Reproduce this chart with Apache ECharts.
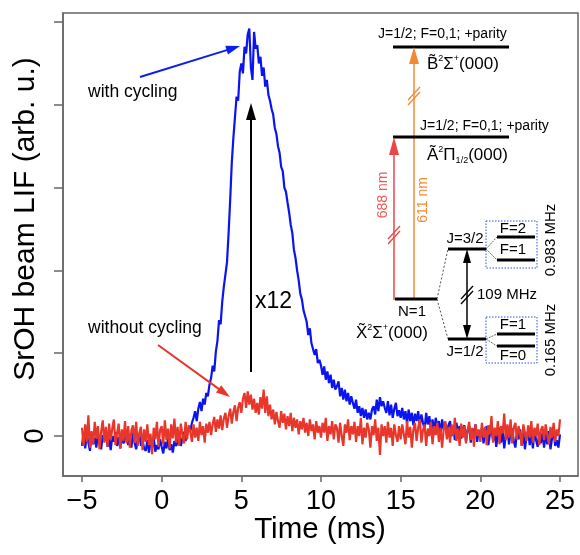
<!DOCTYPE html>
<html><head><meta charset="utf-8">
<script src="https://cdn.jsdelivr.net/npm/echarts@6/dist/echarts.min.js"></script>
<style>html,body{margin:0;padding:0;background:#fff}#c{width:580px;height:555px}</style>
</head><body><div id="c"></div>
<script>
// Sampling grid of the traces (ms)
const tStart = -5, tStep = 0.1;
// LIF with cycling (blue), one value per 0.1 ms from -5 to 25 ms
const withCycling = [
-0.12,0.05,-0.15,0.02,-0.08,-0.18,0.04,-0.1,-0.02,-0.14,
0.03,-0.09,-0.16,0.01,-0.06,0.06,-0.13,-0.03,-0.17,0.0,
-0.07,0.05,-0.12,-0.01,-0.15,0.03,-0.09,-0.04,0.07,-0.11,
-0.02,-0.14,0.04,-0.08,-0.16,-0.03,0.02,-0.12,-0.06,-0.15,
-0.18,-0.05,-0.2,-0.08,-0.14,-0.02,-0.19,-0.11,-0.16,-0.04,
-0.13,-0.21,-0.07,-0.15,-0.03,-0.17,-0.1,-0.2,-0.06,-0.12,
-0.08,0.02,-0.12,-0.03,0.05,-0.06,0.03,0.1,0.06,0.16,
0.22,0.3,0.18,0.33,0.41,0.3,0.45,0.38,0.52,0.48,
0.62,0.7,0.85,0.78,1.02,1.15,1.4,1.35,1.62,1.8,
1.95,2.1,2.45,2.85,3.3,3.6,3.85,4.1,4.05,4.4,
4.5,4.38,4.7,4.62,4.85,4.92,4.45,4.3,4.88,4.68,
4.72,4.5,4.58,4.35,4.45,4.22,4.3,4.12,4.05,3.95,
3.88,3.72,3.65,3.5,3.42,3.25,3.2,3.0,2.95,2.82,
2.7,2.55,2.45,2.25,2.15,2.0,1.88,1.72,1.65,1.52,
1.45,1.38,1.22,1.3,1.12,1.1,0.98,1.05,0.88,0.92,
0.85,0.74,0.84,0.68,0.78,0.64,0.74,0.58,0.68,0.56,
0.6,0.66,0.48,0.58,0.44,0.56,0.42,0.52,0.38,0.48,
0.4,0.33,0.44,0.28,0.36,0.24,0.34,0.22,0.32,0.2,
0.28,0.2,0.32,0.36,0.26,0.44,0.3,0.47,0.36,0.42,
0.34,0.28,0.42,0.25,0.38,0.22,0.33,0.4,0.24,0.31,
0.22,0.34,0.2,0.3,0.15,0.32,0.18,0.28,0.13,0.27,
0.18,0.3,0.12,0.26,0.16,0.08,0.28,0.14,0.24,0.07,
0.2,0.05,0.22,0.1,0.18,0.02,0.2,0.08,0.16,0.01,
0.13,0.18,0.0,0.11,-0.05,0.16,0.04,0.12,-0.03,0.09,
0.13,-0.06,0.07,0.12,-0.08,0.09,0.0,0.14,-0.07,0.06,
-0.02,0.1,-0.09,0.05,0.12,-0.11,0.02,0.09,-0.06,0.07,
-0.13,0.03,0.1,-0.08,0.06,-0.15,0.02,0.08,-0.1,0.05,
0.09,-0.06,-0.14,0.06,-0.04,0.08,-0.12,0.04,-0.16,0.0,
0.06,-0.11,0.03,-0.15,0.07,-0.05,-0.13,0.05,-0.09,0.04,
-0.14,0.03,-0.1,0.06,-0.16,-0.03,0.05,-0.12,-0.05,-0.14,
0.02];
// LIF without cycling (red)
const withoutCycling = [
0.1,-0.12,0.14,-0.07,0.25,-0.14,0.06,-0.1,0.17,-0.03,
0.12,-0.16,0.05,0.19,-0.08,0.11,-0.13,0.15,-0.05,0.09,
0.2,-0.11,0.03,0.15,-0.15,0.08,-0.06,0.18,-0.09,0.12,
-0.14,0.07,0.13,-0.08,0.17,-0.12,0.04,0.11,-0.17,0.08,
-0.07,0.14,-0.11,0.03,-0.22,0.1,-0.04,0.17,-0.13,0.07,
0.12,-0.1,0.19,-0.05,0.09,-0.15,0.14,-0.03,0.21,-0.08,
0.11,-0.12,0.15,0.02,-0.09,0.17,-0.04,0.13,0.05,-0.07,
0.14,-0.02,0.1,-0.06,0.17,0.01,0.12,-0.08,0.15,0.04,
0.17,0.01,0.14,0.23,0.05,0.2,0.09,0.25,0.07,0.21,
0.28,0.1,0.24,0.33,0.15,0.29,0.37,0.18,0.34,0.41,
0.28,0.45,0.52,0.34,0.54,0.38,0.5,0.32,0.45,0.28,
0.4,0.26,0.47,0.33,0.56,0.28,0.48,0.24,0.38,0.2,
0.32,0.14,0.29,0.18,0.1,0.3,0.16,0.27,0.08,0.24,
0.12,0.28,0.06,0.22,0.1,0.2,0.02,0.18,0.08,0.22,
0.04,0.16,0.0,0.2,0.06,0.14,-0.04,0.18,0.04,0.12,
-0.02,0.16,0.04,0.22,-0.06,0.12,0.02,0.18,-0.04,0.14,
0.1,-0.08,0.16,0.0,-0.12,0.14,0.04,0.2,-0.05,0.12,
0.02,0.17,-0.07,0.12,0.0,0.22,-0.1,0.1,-0.02,0.16,
0.08,-0.14,0.12,0.01,0.2,-0.06,0.1,-0.23,0.14,0.0,
0.12,-0.08,0.17,-0.02,0.1,-0.12,0.14,0.01,-0.07,0.12,
-0.04,0.14,0.02,-0.1,0.18,-0.02,0.11,-0.14,0.08,0.16,
-0.06,0.1,0.2,-0.08,0.07,0.14,-0.12,0.09,0.0,0.17,
-0.1,0.12,0.01,0.16,-0.07,0.1,-0.14,0.08,0.18,-0.04,
0.11,-0.08,0.14,0.0,0.22,-0.06,0.09,-0.12,0.15,-0.02,
0.12,-0.09,0.07,0.17,-0.05,0.1,-0.13,0.14,0.0,0.08,
-0.07,0.16,-0.02,0.11,-0.11,0.13,0.02,0.24,-0.08,0.1,
0.0,0.18,-0.1,0.12,0.03,0.27,-0.05,0.14,-0.02,0.2,
-0.09,0.1,0.16,-0.04,0.12,0.02,-0.12,0.14,0.04,-0.06,
0.13,-0.02,0.18,-0.08,0.1,0.0,0.15,-0.11,0.07,0.12,
-0.05,0.14,0.02,-0.1,0.11,-0.02,0.16,-0.07,0.08,0.0,
0.2];
const xTicks = [-5, 0, 5, 10, 15, 20, 25];
const yTicks = [0, 1, 2, 3, 4, 5];
const yTickLabels = [0];

const FF = 'Liberation Sans, Arial, Helvetica, sans-serif';
const toPairs = arr => arr.map((v, i) => [+(tStart + i * tStep).toFixed(2), v]);

const g = [];
function L(x1, y1, x2, y2, color, w, dash) {
  g.push({type:'line', z:100, shape:{x1,y1,x2,y2}, style:{stroke:color, lineWidth:w, lineDash:dash||null}});
}
function P(points, color) {
  g.push({type:'polygon', z:100, shape:{points}, style:{fill:color}});
}
function T(text, x, y, size, opts) {
  opts = opts || {};
  g.push({type:'text', z:100, x, y, rotation: opts.rot || 0,
    style:{text, fill: opts.color || '#000', fontSize:size, fontFamily:FF,
      align: opts.align || 'left', verticalAlign: opts.va || 'middle', rich: opts.rich}});
}
function arrow(x1, y1, x2, y2, color, w, hl, hw) {
  const dx = x2 - x1, dy = y2 - y1, len = Math.hypot(dx, dy);
  const ux = dx / len, uy = dy / len;
  const bx = x2 - ux * hl, by = y2 - uy * hl;
  L(x1, y1, bx + ux, by + uy, color, w);
  P([[x2, y2], [bx - uy * hw / 2, by + ux * hw / 2], [bx + uy * hw / 2, by - ux * hw / 2]], color);
}
function brk(x, y, color) {
  L(x - 6, y + 6, x + 6, y - 7, color, 1.3);
  L(x - 6, y + 11, x + 6, y - 2, color, 1.3);
}

// Annotations on the traces
T('with cycling', 88, 92, 17.5);
arrow(140, 77, 240, 46, '#0a1ef0', 2, 14, 9);
T('without cycling', 88, 328, 17.5);
arrow(158, 345, 230, 397, '#e8362a', 2, 14, 9);
arrow(251, 372, 251, 103, '#000', 2, 17, 10);
T('x12', 255, 302, 23);

// Energy-level inset
const ORANGE = '#f28a34', REDA = '#e8474a', BLUEBOX = '#3050f0';
const supRich = {
  m:{fontSize:17, fontFamily:FF, fill:'#000'},
  s:{fontSize:9, fontFamily:FF, fill:'#000', verticalAlign:'top', lineHeight:20},
  d:{fontSize:9, fontFamily:FF, fill:'#000', verticalAlign:'bottom', lineHeight:16}
};
T('J=1/2; F=0,1; +parity', 378, 34, 14);
L(393, 47, 509, 47, '#000', 3);
T('{m|B\u0303}{s|2}{m|\u03A3}{s|+}{m|(000)}', 427, 64, 17, {rich:supRich});
L(414, 300, 414, 62, ORANGE, 1.5);
P([[414, 47], [409, 64], [419, 64]], ORANGE);
brk(414, 94, ORANGE);

L(393, 137, 509, 137, '#000', 3);
T('J=1/2; F=0,1; +parity', 420, 126, 14);
T('{m|A\u0303}{s|2}{m|\u03A0}{d|1/2}{m|(000)}', 427, 155, 17, {rich:supRich});
L(394, 300, 394, 154, REDA, 1.5);
P([[394, 137], [389, 155], [399, 155]], REDA);
brk(394, 233, REDA);
T('688 nm', 383, 195, 14, {rot:Math.PI/2, color:'#e85a5a', align:'center'});
T('611 nm', 423, 200, 14, {rot:Math.PI/2, color:ORANGE, align:'center'});

L(395, 299, 437, 299, '#000', 3);
T('N=1', 412, 312, 15, {align:'center'});
T('{m|X\u0303}{s|2}{m|\u03A3}{s|+}{m|(000)}', 356, 333, 17, {rich:supRich});
L(437, 299, 448, 249, '#222', 0.8, [2, 2]);
L(437, 299, 448, 339, '#222', 0.8, [2, 2]);
L(448, 249, 486, 249, '#000', 3);
L(448, 339, 486, 339, '#000', 3);
T('J=3/2', 465, 239, 15, {align:'center'});
T('J=1/2', 465, 352, 15, {align:'center'});
L(467, 262, 467, 326, '#000', 1.5);
P([[467, 249], [463, 263], [471, 263]], '#000');
P([[467, 339], [463, 325], [471, 325]], '#000');
brk(467, 293, '#000');
T('109 MHz', 477, 295, 15);

L(486, 249, 497, 237, '#444', 0.8, [2, 1]);
L(486, 249, 497, 260, '#444', 0.8, [2, 1]);
L(497, 237, 535, 237, '#000', 3);
L(497, 260, 535, 260, '#000', 3);
T('F=2', 513, 229, 15, {align:'center'});
T('F=1', 513, 250, 15, {align:'center'});
L(486, 339, 497, 334, '#444', 0.8, [2, 1]);
L(486, 339, 497, 346, '#444', 0.8, [2, 1]);
L(497, 334, 535, 334, '#000', 3);
L(497, 346, 535, 346, '#000', 3);
T('F=1', 513, 325, 15, {align:'center'});
T('F=0', 513, 356, 15, {align:'center'});
g.push({type:'rect', z:99, shape:{x:486, y:221, width:51, height:47}, style:{fill:null, stroke:BLUEBOX, lineWidth:1, lineDash:[1.5, 1.5]}});
g.push({type:'rect', z:99, shape:{x:486, y:317, width:51, height:46}, style:{fill:null, stroke:BLUEBOX, lineWidth:1, lineDash:[1.5, 1.5]}});
T('0.983 MHz', 551, 240, 15, {rot:Math.PI/2, align:'center'});
T('0.165 MHz', 551, 340, 15, {rot:Math.PI/2, align:'center'});

// Axis titles
T('Time (ms)', 320, 530, 29.5, {align:'center'});
T('SrOH beam LIF (arb. u.)', 26, 219, 30, {rot:Math.PI/2, align:'center'});

const AX = '#666';
const chart = echarts.init(document.getElementById('c'), null, {renderer:'canvas'});
chart.setOption({
  animation:false,
  backgroundColor:'#fff',
  grid:{left:63, right:2, top:13, bottom:79, show:true, borderColor:AX, borderWidth:1.5, backgroundColor:'transparent'},
  xAxis:{type:'value', min:-6.193, max:26.13,
    axisLine:{show:true, onZero:false, lineStyle:{color:AX, width:1.5}},
    axisTick:{show:true, length:6, customValues:xTicks, lineStyle:{color:AX, width:1.5}},
    axisLabel:{customValues:xTicks, fontSize:27, fontFamily:FF, color:'#000', margin:12,
      formatter:v => String(v).replace('-', '\u2212')},
    splitLine:{show:false}},
  yAxis:{type:'value', min:-0.483, max:5.109,
    axisLine:{show:true, onZero:false, lineStyle:{color:AX, width:1.5}},
    axisTick:{show:true, length:9, customValues:yTicks, lineStyle:{color:AX, width:1.5}},
    axisLabel:{customValues:yTickLabels, rotate:90, fontSize:27, fontFamily:FF, color:'#000', margin:14},
    splitLine:{show:false}},
  series:[
    {type:'line', data:toPairs(withCycling), showSymbol:false, lineStyle:{color:'#0a14f0', width:2.2}, z:2},
    {type:'line', data:toPairs(withoutCycling), showSymbol:false, lineStyle:{color:'#e8362a', width:2.2}, z:3}
  ],
  graphic:g
});
</script></body></html>
